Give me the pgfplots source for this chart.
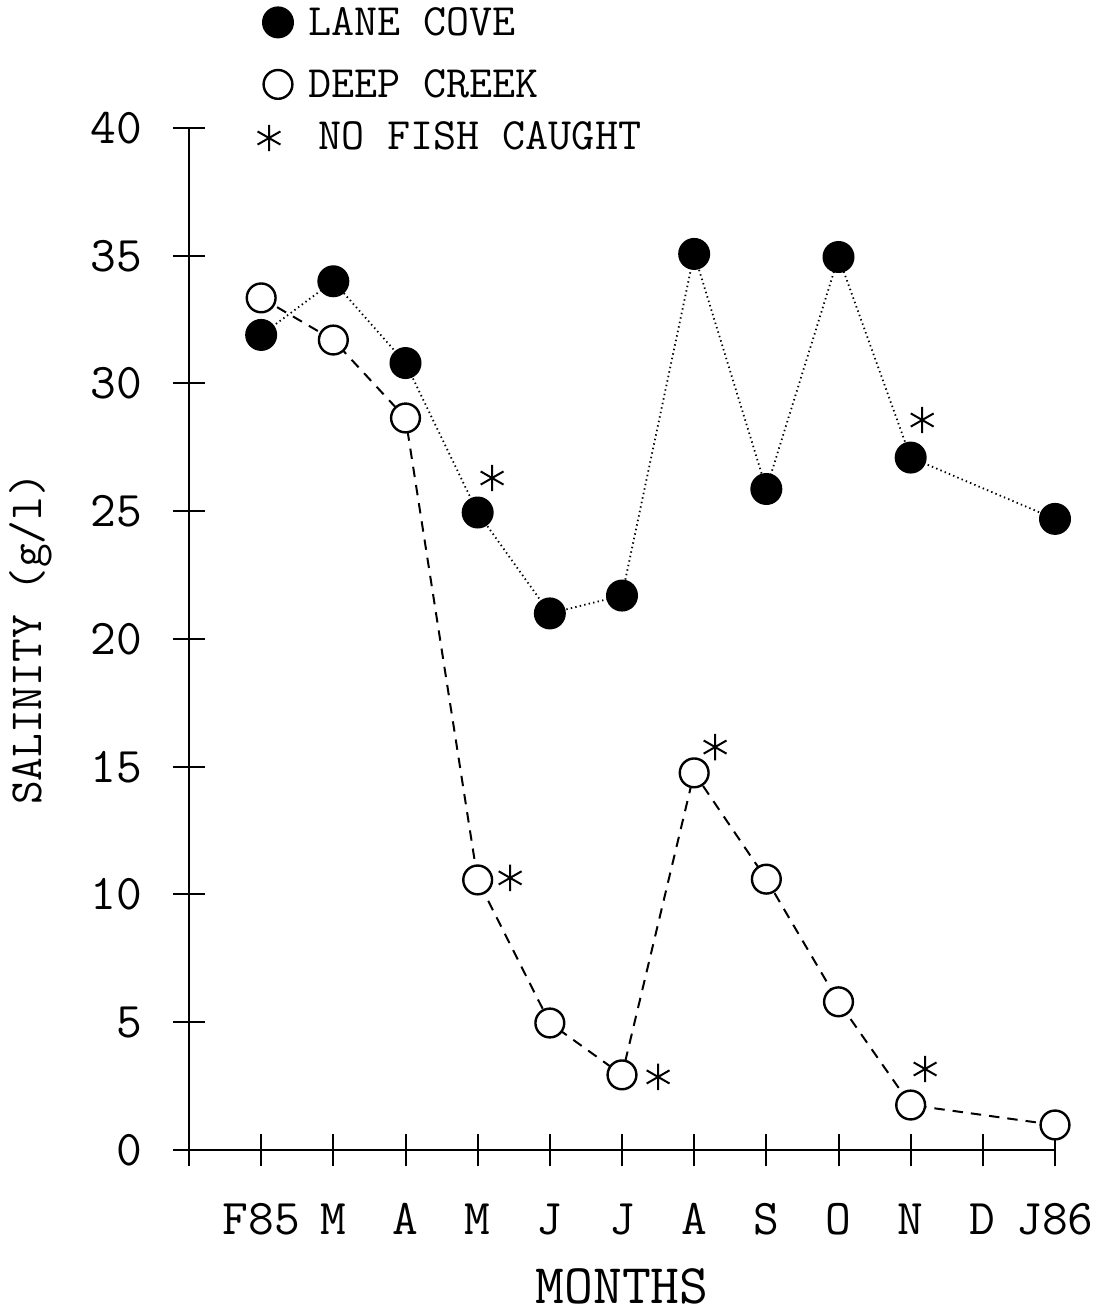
\documentclass[border=0pt]{standalone}
\usepackage{fontspec}
\setmonofont{Latin Modern Mono}
\usepackage{pgfplots}
\pgfplotsset{compat=1.18}
\begin{document}
\begin{tikzpicture}
\useasboundingbox (-47.25pt,-40.5pt) rectangle (230pt,287.5pt);
\begin{axis}[
  at={(0pt,0pt)}, anchor=south west,
  scale only axis, width=216.5pt, height=255.5pt,
  xmin=-1, xmax=11, ymin=0, ymax=40,
  axis lines=left, axis line style={-, line width=0.55pt},
  clip=false, axis on top,
  xtick={-1,0,...,11},
  xticklabels={,F85,M,A,M,J,J,A,S,O,N,D,J86},
  ytick={0,5,...,40},
  tick align=center, major tick length=8pt,
  tick style={line width=0.5pt, black},
  /pgf/number format/assume math mode=true,
  ticklabel style={font=\fontsize{12.5}{15}\selectfont\ttfamily},
  xticklabel style={anchor=base, inner sep=0pt, yshift=-17.25pt},
  yticklabel style={anchor=east, inner sep=0pt, xshift=-7.5pt},
  xlabel={MONTHS}, ylabel={SALINITY (g/l)},
  every axis x label/.style={at={(axis description cs:0.5,-0.1335)}, anchor=center, font=\fontsize{14}{16}\selectfont\ttfamily},
  every axis y label/.style={at={(axis description cs:-0.1824,0.5)}, rotate=90, anchor=center, font=\fontsize{11.5}{14}\selectfont\ttfamily},
  legend style={at={(axis description cs:0.0716,1.1213)}, anchor=north west, draw=none, fill=none,
    inner sep=0pt, outer sep=0pt, row sep=0pt, column sep=1.3pt,
    nodes={inner sep=0pt, outer sep=0pt, text depth=1pt}, cells={anchor=base west},
    font=\fontsize{11.2}{13}\selectfont\ttfamily},
]
\addplot[black, line width=0.45pt, dash pattern=on 0.35pt off 0.8pt,
  mark=*, mark size=3.75pt, mark options={solid, fill=black, line width=0.5pt},
  legend image code/.code={\path (-8pt,0pt) (4.5pt,0pt);
    \draw[mark=*, mark size=3.75pt, mark options={fill=black, solid, line width=0.5pt}] plot coordinates {(-1.5pt,3.4pt)};}]
coordinates {(0,31.9) (1,34.0) (2,30.8) (3,24.95) (4,21.0) (5,21.7) (6,35.07) (7,25.87) (8,34.95) (9,27.1) (11,24.7)};
\addlegendentry{\rule{0pt}{8pt}LANE COVE}
\addplot[black, line width=0.5pt, dash pattern=on 2.6pt off 2.0pt,
  mark=*, mark size=3.6pt, mark options={solid, fill=white, draw=black, line width=0.6pt},
  legend image code/.code={\path (-8pt,0pt) (4.5pt,0pt);
    \draw[mark=*, mark size=3.6pt, mark options={fill=white, draw=black, solid, line width=0.6pt}] plot coordinates {(-1.5pt,3.4pt)};}]
coordinates {(0,33.35) (1,31.7) (2,28.65) (3,10.57) (4,4.97) (5,2.94) (6,14.76) (7,10.6) (8,5.8) (9,1.76) (11,0.98)};
\addlegendentry{\rule{0pt}{14.5pt}DEEP CREEK}
\addplot[black, only marks, mark=asterisk, mark size=3.3pt, mark options={line width=0.5pt},
  legend image code/.code={\path (-8pt,0pt) (4.5pt,0pt);
    \draw[mark=asterisk, mark size=3.3pt, mark options={line width=0.5pt}] plot coordinates {(-3.75pt,3.0pt)};}]
coordinates {(3.20,26.3) (9.16,28.57) (3.45,10.65) (5.50,2.86) (6.29,15.77) (9.20,3.17)};
\addlegendentry{\rule{0pt}{12pt}\hspace{2.5pt}NO FISH CAUGHT}
\end{axis}
\end{tikzpicture}
\end{document}
